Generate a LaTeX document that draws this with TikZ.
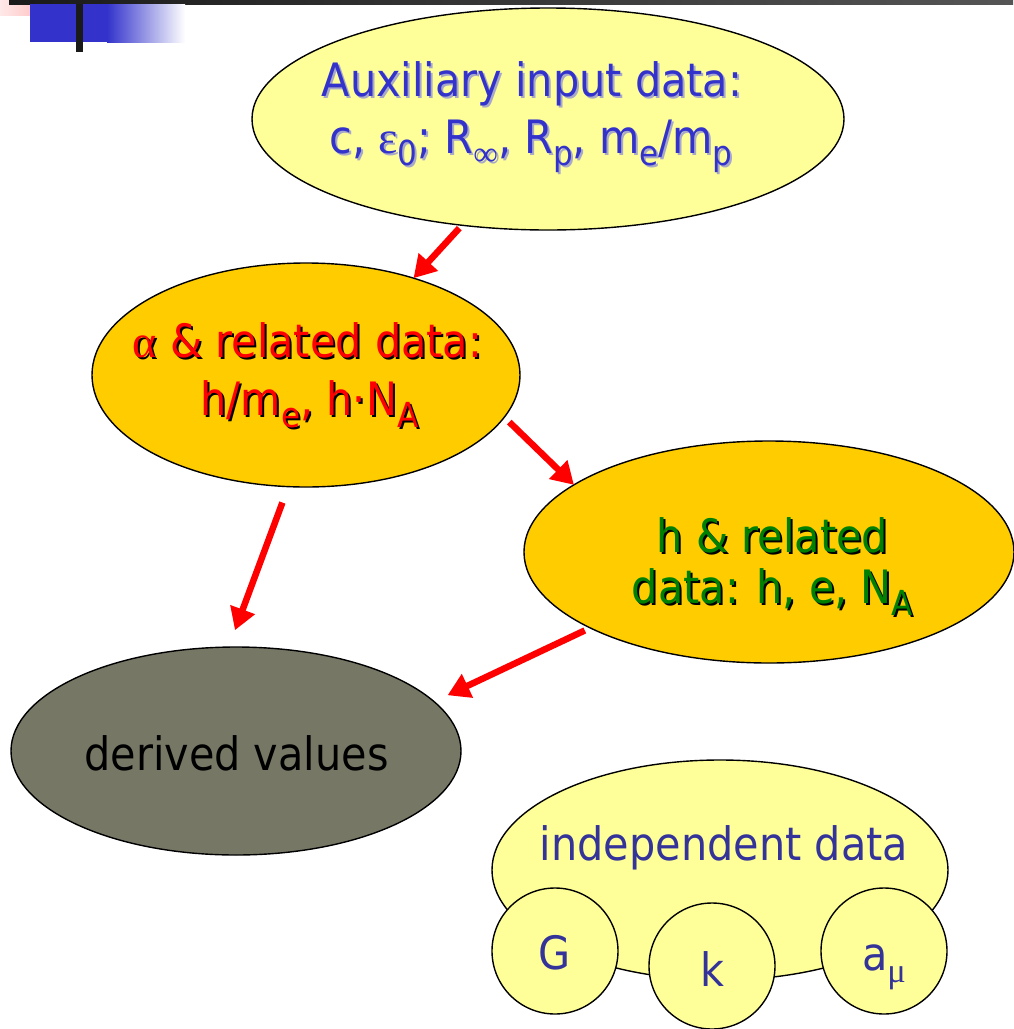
\documentclass[tikz,border=0pt]{standalone}
\usepackage{fontspec}
\setmainfont{DejaVu Sans}[FakeStretch=0.9]
\newfontfamily\symf{Liberation Serif}
\usepackage{graphicx}
\usetikzlibrary{arrows.meta,shapes.geometric}
\definecolor{paleY}{HTML}{FFFF99}
\definecolor{goldY}{HTML}{FFCC00}
\definecolor{oliveG}{HTML}{777766}
\definecolor{blueA}{HTML}{3333CC}
\definecolor{blueB}{HTML}{333399}
\definecolor{shadowA}{HTML}{A8A8C8}
\definecolor{greenT}{HTML}{008000}
\definecolor{redT}{HTML}{FF0000}
\definecolor{barDark}{HTML}{1A1A1A}
\definecolor{barLight}{HTML}{555555}
\definecolor{pinkL}{HTML}{FFE8E8}
\definecolor{pinkR}{HTML}{FFB0B0}
\newcommand{\lo}[1]{\raisebox{-0.28em}{\scalebox{0.75}{#1}}}
\newcommand{\shd}[3]{\rlap{\kern2pt\raisebox{-2pt}{\color{#2}#3}}{\color{#1}#3}}
\begin{document}
\begin{tikzpicture}[x=1pt,y=-1pt,
  blob/.style={ellipse, draw=black, line width=1.4pt, inner sep=0pt, outer sep=0pt},
  ball/.style={circle, draw=black, line width=1.4pt, fill=paleY, minimum size=126pt, inner sep=0pt, outer sep=0pt},
  txt/.style={anchor=base, inner sep=0pt, font=\fontsize{46}{55}\selectfont},
  arr/.style={draw=redT, line width=6.5pt, -{Triangle[length=22pt,width=25pt]}}]
\fill[white] (0,0) rectangle (1013,1029);
\useasboundingbox (0,0) rectangle (1013,1029);
% header decoration
\shade[left color=pinkL, right color=pinkR] (0,0) rectangle (61,15);
\shade[left color=barDark, right color=barLight] (9,0) rectangle (1013,4);
\fill[blueA] (30,4) rectangle (107,42);
\shade[left color=blueA, right color=white] (107,4) rectangle (185,42);
\fill[barDark] (76,4) rectangle (83,52);
% ellipses
\node[blob, fill=paleY, minimum width=592pt, minimum height=222pt] (top) at (548,119) {};
\node[blob, fill=goldY, minimum width=428pt, minimum height=224pt] (alpha) at (306,375) {};
\node[blob, fill=goldY, minimum width=490pt, minimum height=222pt] (h) at (769,552) {};
\node[blob, fill=oliveG, minimum width=450pt, minimum height=208pt] (derived) at (236,751) {};
\node[blob, fill=paleY, minimum width=456pt, minimum height=220pt] (indep) at (720,870) {};
\node[ball] (cG) at (555,951) {};
\node[ball] (cK) at (712,966) {};
\node[ball] (cA) at (884,951) {};
% texts
\node[txt] (t1) at (532,96) {\shd{blueA}{shadowA}{Auxiliary input data:}};
\node[txt] (t2) at (531,153) {\shd{blueA}{shadowA}{c, {\symf ε}\lo{0}; R\lo{{\symf ∞}}, R\lo{p}, m\lo{e}/m\lo{p}}};
\node[txt] (a1) at (307.5,357) {\shd{redT}{black}{{\symf α} \& related data:}};
\node[txt] (a2) at (309.5,415) {\shd{redT}{black}{h/m\lo{e}, h·N\lo{A}}};
\node[txt] (h1) at (772.5,552) {\shd{greenT}{black}{h \& related}};
\node[txt] (h2) at (772.5,603) {\shd{greenT}{black}{data: h, e, N\lo{A}}};
\node[txt] (d1) at (236.5,770) {derived values};
\node[txt, text=blueB] (i1) at (724,860) {independent data};
\node[txt, text=blueB] (g1) at (555,969) {G};
\node[txt, text=blueB] (k1) at (712,986) {k};
\node[txt, text=blueB] (m1) at (884,970) {a\lo{{\symf μ}}};
% arrows
\draw[arr, shorten <=4pt] (top.231.5) -- (alpha.42.2);
\draw[arr, shorten <=7pt] (alpha.-12.4) -- (h.161.6);
\draw[arr, shorten <=17pt, shorten >=18pt] (alpha.261.4) -- (derived.94.1);
\draw[arr, shorten <=6pt, shorten >=15pt] (h.203.9) -- (derived.14.9);
\end{tikzpicture}
\end{document}
